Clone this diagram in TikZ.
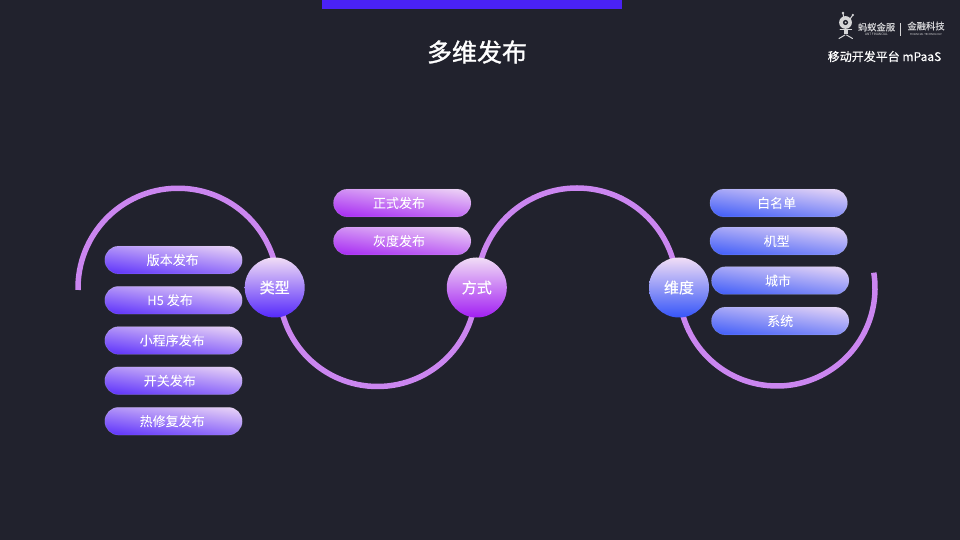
\documentclass[tikz,border=0pt]{standalone}
\usepackage{fontspec}
\setmainfont{Noto Sans CJK SC}
\newfontfamily\medf[FakeBold=0.25]{Noto Sans CJK SC}
\newfontfamily\titf[FakeBold=1.3]{Noto Sans CJK SC}
\usetikzlibrary{shapes.misc}
\definecolor{bg}{HTML}{21222D}
\definecolor{barc}{HTML}{4A22F5}
\definecolor{arcc}{HTML}{CB86F0}
\definecolor{lite}{HTML}{F1DDF6}
\definecolor{viol}{HTML}{5528FB}
\definecolor{purp}{HTML}{A21FF2}
\definecolor{blue}{HTML}{3555F8}
\definecolor{logoc}{HTML}{D6D6D8}
\pgfdeclareverticalshading{gviol}{190bp}{color(0bp)=(viol); color(50bp)=(lite)}
\pgfdeclareverticalshading{gpurp}{190bp}{color(0bp)=(purp); color(50bp)=(lite)}
\pgfdeclareverticalshading{gblue}{190bp}{color(0bp)=(blue); color(50bp)=(lite)}
\newcommand{\dnt}[1]{\raisebox{-1.4pt}{#1}}
\tikzset{
  x=1pt,y=1pt,
  ring/.style={draw=arcc,line width=5.5pt},
  pill/.style={rounded rectangle,minimum width=137.5pt,minimum height=27.8pt,inner sep=0pt,
    text=white,font=\fontsize{13}{13}\medf,draw=white,draw opacity=0.18,line width=0.5pt,
    path picture={\pgftransformshift{\pgfpointanchor{path picture bounding box}{center}}
      \pgftransformrotate{-8}\pgftext{\pgfuseshading{#1}}}},
  hub/.style={circle,minimum size=60pt,inner sep=0pt,text=white,
    font=\fontsize{15}{15}\medf,shading=axis,top color=lite},
  pv/.style={pill=gviol},
  pp/.style={pill=gpurp},
  pb/.style={pill=gblue},
  ant/.style={draw=logoc,line width=1pt,line cap=round},
  logotext/.style={text=logoc,inner sep=0pt},
}
\begin{document}
\begin{tikzpicture}
\useasboundingbox (0,0) rectangle (960,540);
\fill[bg] (0,0) rectangle (960,540);
\fill[barc] (322,531) rectangle (622,540);
\node[text=white,inner sep=0pt,font=\fontsize{25}{25}\titf] (title) at (477,488) {多维发布};

% arcs
\draw[ring] (78,250) arc[start angle=181,end angle=0,radius=100];
\draw[ring] (279,252) arc[start angle=180,end angle=360,radius=98.5];
\draw[ring] (477,252) arc[start angle=180,end angle=0,radius=100];
\draw[ring] (679,252) arc[start angle=180,end angle=369,radius=98];

% hubs
\node[hub,bottom color=viol] (hubA) at (274.7,252.5) {类型};
\node[hub,bottom color=purp] (hubB) at (476.8,252.5) {方式};
\node[hub,bottom color=blue] (hubC) at (679,252.5) {维度};

% pills
\node[pv] (a1) at (173.5,280) {\hspace*{-1.6pt}\dnt{版本发布}};
\node[pv] (a2) at (173.5,239.8) {\hspace*{-7pt}H5 发布};
\node[pv] (a3) at (173.5,199.5) {\hspace*{-2.6pt}小程序发布};
\node[pv] (a4) at (173.5,159.3) {\hspace*{-7.5pt}开关发布};
\node[pv] (a5) at (173.5,118.8) {\hspace*{-2.6pt}热修复发布};
\node[pp] (b1) at (402.2,337) {\hspace*{-6.4pt}\dnt{正式发布}};
\node[pp] (b2) at (402.2,299) {\hspace*{-6.4pt}\dnt{灰度发布}};
\node[pb] (c1) at (778.7,337) {\hspace*{-4pt}\dnt{白名单}};
\node[pb] (c2) at (778.7,299) {\hspace*{-4pt}\dnt{机型}};
\node[pb] (c3) at (780.2,259.4) {\hspace*{-4.4pt}城市};
\node[pb] (c4) at (780.2,219) {\dnt{系统}};

% header right
\node[text=white,inner sep=0pt,font=\fontsize{12}{12}\medf] (mp) at (884.5,483.5) {移动开发平台 mPaaS};

% logo
\draw[ant] (844.5,516) -- (843,527);
\draw[ant] (846.5,516) -- (852.5,524.5);
\fill[logoc] (843,527) circle (1.3);
\fill[logoc] (852.8,525) circle (1.3);
\fill[logoc] (845.5,517.5) circle (6.4);
\fill[bg] (845.5,517.5) circle (2.6);
\fill[logoc] (845.5,517.5) circle (1);
\draw[logoc,line width=4pt] (845.7,510.5) -- (845.7,505.5);
\draw[ant] (845,505) -- (839,501.5);
\draw[ant] (846.5,505) -- (852.5,501.5);
\draw[ant] (840,510.5) -- (851.5,510.5);
\node[logotext,font=\fontsize{9.3}{9.3}\medf] (lg1) at (876.5,513) {蚂蚁金服};
\node[logotext,font=\fontsize{3.2}{3.2}\selectfont] (lg2) at (876.5,505.3) {ANT FINANCIAL};
\draw[draw=logoc,line width=0.4pt] (900.5,504) -- (900.5,517);
\node[logotext,font=\fontsize{9.3}{9.3}\medf] (lg3) at (926,514) {金融科技};
\node[logotext,font=\fontsize{2.7}{2.7}\selectfont] (lg4) at (926,505.8) {FINANCIAL TECHNOLOGY};
\end{tikzpicture}
\end{document}
